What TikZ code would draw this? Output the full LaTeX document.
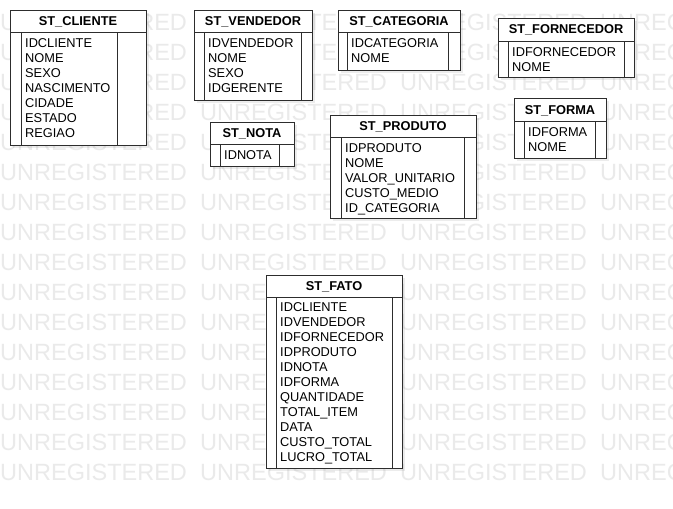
\documentclass[tikz,border=0pt]{standalone}
\usepackage{fontspec}
\setmainfont{Liberation Sans}
\usepackage{xcolor}
\usepackage{tikz}
\usetikzlibrary{shadows}
\definecolor{wmgray}{RGB}{234,234,234}
\definecolor{tblline}{RGB}{45,45,45}

\begin{document}
\begin{tikzpicture}[x=1pt,y=-1pt,
  tblbox/.style={draw=tblline, line width=0.9pt, fill=white,
    drop shadow={shadow xshift=2.5pt, shadow yshift=-2.5pt, opacity=0.15}},
  tblline/.style={draw=tblline, line width=0.9pt},
  tblhead/.style={anchor=base, inner sep=0pt, font=\bfseries\fontsize{12.8}{15}\selectfont},
  tblrows/.style={anchor=north west, inner sep=0pt, align=left, font=\fontsize{12.8}{15}\selectfont},
  wmark/.style={anchor=base west, inner sep=0pt, text=wmgray, font=\fontsize{23.5}{24}\selectfont}]
\clip (0,0) rectangle (673,509);
\fill[white] (0,0) rectangle (673,509);

% watermark
\foreach \r in {0,...,15}
  \foreach \c in {0,...,3}
    \node[wmark] (wm-\r-\c) at (200*\c, 30+30*\r) {UNREGISTERED};

% ST_CLIENTE
\draw[tblbox] (10,10) rectangle (146,145);
\draw[tblline] (10,32) -- (146,32) (21,32) -- (21,145) (117,32) -- (117,145);
\node[tblhead] (cliente) at (78,25) {ST\_CLIENTE};
\node[tblrows] (clienteattr) at (25,38.8) {IDCLIENTE\\NOME\\SEXO\\NASCIMENTO\\CIDADE\\ESTADO\\REGIAO};

% ST_VENDEDOR
\draw[tblbox] (194,10) rectangle (312,100);
\draw[tblline] (194,32) -- (312,32) (204,32) -- (204,100) (301,32) -- (301,100);
\node[tblhead] (vendedor) at (253,25) {ST\_VENDEDOR};
\node[tblrows] (vendedorattr) at (208,38.8) {IDVENDEDOR\\NOME\\SEXO\\IDGERENTE};

% ST_CATEGORIA
\draw[tblbox] (338,10) rectangle (460,70);
\draw[tblline] (338,32) -- (460,32) (347,32) -- (347,70) (448,32) -- (448,70);
\node[tblhead] (categoria) at (399,25) {ST\_CATEGORIA};
\node[tblrows] (categoriaattr) at (351,38.8) {IDCATEGORIA\\NOME};

% ST_FORNECEDOR
\draw[tblbox] (498,18) rectangle (634,77);
\draw[tblline] (498,41) -- (634,41) (508,41) -- (508,77) (624,41) -- (624,77);
\node[tblhead] (fornecedor) at (566,33.5) {ST\_FORNECEDOR};
\node[tblrows] (fornecedorattr) at (512,47.5) {IDFORNECEDOR\\NOME};

% ST_NOTA
\draw[tblbox] (210,122) rectangle (294,166);
\draw[tblline] (210,144) -- (294,144) (220,144) -- (220,166) (279,144) -- (279,166);
\node[tblhead] (nota) at (252,137) {ST\_NOTA};
\node[tblrows] (notaattr) at (224,150.5) {IDNOTA};

% ST_PRODUTO
\draw[tblbox] (330,115) rectangle (476,218);
\draw[tblline] (330,137) -- (476,137) (341,137) -- (341,218) (464,137) -- (464,218);
\node[tblhead] (produto) at (403,130) {ST\_PRODUTO};
\node[tblrows] (produtoattr) at (345,143) {IDPRODUTO\\NOME\\VALOR\_UNITARIO\\CUSTO\_MEDIO\\ID\_CATEGORIA};

% ST_FORMA
\draw[tblbox] (514,98) rectangle (606,158);
\draw[tblline] (514,121) -- (606,121) (524,121) -- (524,158) (595,121) -- (595,158);
\node[tblhead] (forma) at (560,114) {ST\_FORMA};
\node[tblrows] (formaattr) at (528,127) {IDFORMA\\NOME};

% ST_FATO
\draw[tblbox] (266,275) rectangle (402,468);
\draw[tblline] (266,297) -- (402,297) (276,297) -- (276,468) (392,297) -- (392,468);
\node[tblhead] (fato) at (334,290) {ST\_FATO};
\node[tblrows] (fatoattr) at (280,302) {IDCLIENTE\\IDVENDEDOR\\IDFORNECEDOR\\IDPRODUTO\\IDNOTA\\IDFORMA\\QUANTIDADE\\TOTAL\_ITEM\\DATA\\CUSTO\_TOTAL\\LUCRO\_TOTAL};
\end{tikzpicture}
\end{document}
